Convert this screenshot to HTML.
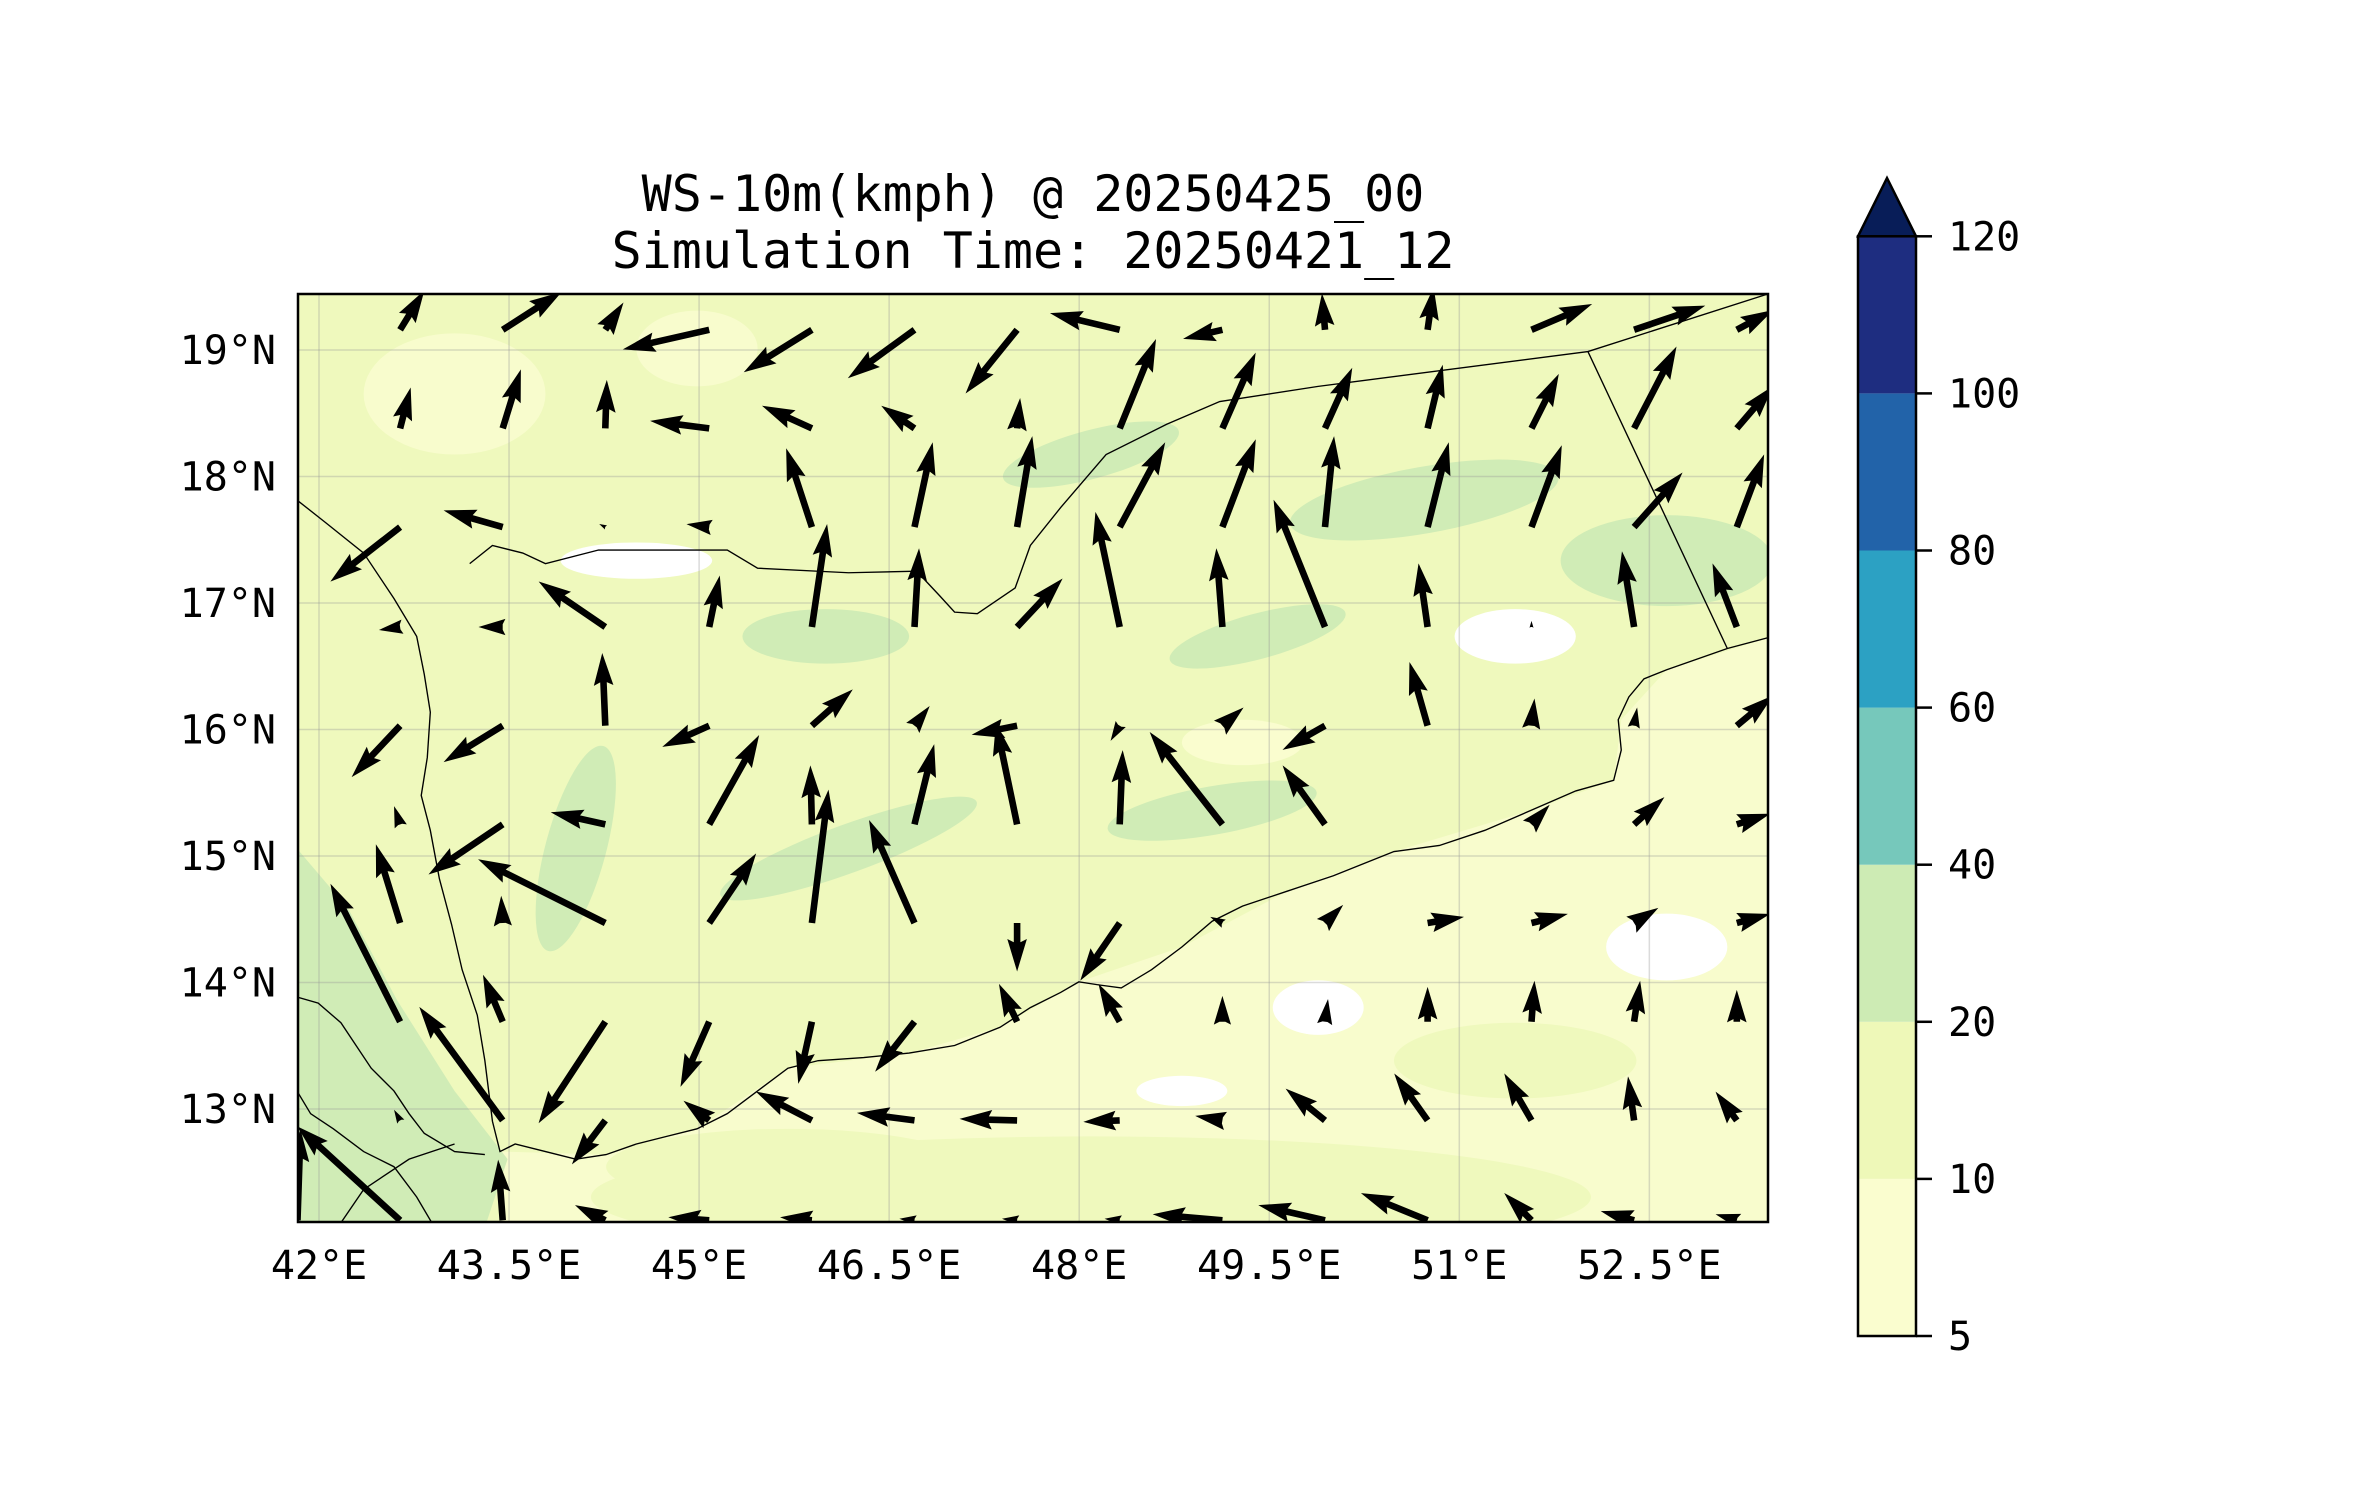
<!DOCTYPE html>
<html><head><meta charset="utf-8">
<style>
html,body{margin:0;padding:0;background:#fff;}
svg{display:block;}
text{font-family:"DejaVu Sans Mono","Liberation Mono",monospace;fill:#000;}
</style></head>
<body>
<svg id="chart" width="2371" height="1500" viewBox="0 0 2371 1500" xmlns="http://www.w3.org/2000/svg">
<defs><clipPath id="plotclip"><rect x="298" y="294" width="1470" height="928"/></clipPath></defs>
<text x="1033" y="211" font-size="50" text-anchor="middle">WS-10m(kmph) @ 20250425_00</text>
<text x="1033" y="268" font-size="50" text-anchor="middle">Simulation Time: 20250421_12</text>
<g clip-path="url(#plotclip)">
 <g transform="scale(1.5152)">
  <rect x="190" y="190" width="985" height="625" fill="#eff9bd"/>
  <path d="M330,760 L400,762 L460,745 L520,705 L600,695 L660,678 L712,648 L780,625 L850,588 L920,562 L1010,535 L1065,515 L1070,475 L1100,442 L1170,420 L1170,810 L330,810 Z" fill="#f8fccd"/>
  <ellipse cx="720" cy="790" rx="330" ry="40" fill="#eff9bd"/>
  <ellipse cx="1000" cy="700" rx="80" ry="25" fill="#eff9bd"/>
  <ellipse cx="520" cy="770" rx="120" ry="25" fill="#eff9bd"/>
  <ellipse cx="1100" cy="625" rx="40" ry="22" fill="#fff"/>
  <ellipse cx="870" cy="665" rx="30" ry="18" fill="#fff"/>
  <ellipse cx="780" cy="720" rx="30" ry="10" fill="#fff"/>
  <path d="M196,560 L230,600 L262,660 L300,720 L335,765 L320,810 L196,810 Z" fill="#d0ecb6"/>
  <ellipse cx="545" cy="420" rx="55" ry="18" fill="#d0ecb6"/>
  <ellipse cx="720" cy="300" rx="60" ry="16" fill="#d0ecb6" transform="rotate(-15 720 300)"/>
  <ellipse cx="940" cy="330" rx="90" ry="22" fill="#d0ecb6" transform="rotate(-10 940 330)"/>
  <ellipse cx="1100" cy="370" rx="70" ry="30" fill="#d0ecb6"/>
  <ellipse cx="830" cy="420" rx="60" ry="15" fill="#d0ecb6" transform="rotate(-15 830 420)"/>
  <ellipse cx="560" cy="560" rx="90" ry="16" fill="#d0ecb6" transform="rotate(-20 560 560)"/>
  <ellipse cx="800" cy="535" rx="70" ry="16" fill="#d0ecb6" transform="rotate(-10 800 535)"/>
  <ellipse cx="380" cy="560" rx="20" ry="70" fill="#d0ecb6" transform="rotate(15 380 560)"/>
  <ellipse cx="420" cy="370" rx="50" ry="12" fill="#fff"/>
  <ellipse cx="1000" cy="420" rx="40" ry="18" fill="#fff"/>
  <ellipse cx="820" cy="490" rx="40" ry="15" fill="#fafdcf"/>
  <ellipse cx="300" cy="260" rx="60" ry="40" fill="#f8fccd"/>
  <ellipse cx="460" cy="230" rx="40" ry="25" fill="#f8fccd"/>
 </g>
 <g id="grid"></g>
 <g transform="scale(1.5152)" fill="none" stroke="#000" stroke-width="0.9">
  <path d="M196,330 L215,345 L240,365 L260,395 L275,420 L280,445 L284,470 L282,500 L278,525 L284,548 L290,580 L298,610 L305,640 L315,670 L320,700 L325,740 L330,760 L340,755 L360,760 L380,765 L400,762 L420,755 L440,750 L460,745 L480,735 L500,720 L520,705 L540,700 L570,698 L600,695 L630,690 L660,678 L680,665 L700,655 L712,648 L725,650 L740,652 L760,640 L780,625 L800,608 L820,598 L850,588 L880,578 L900,570 L920,562 L950,558 L980,548 L1010,535 L1040,522 L1065,515 L1070,495 L1068,475 L1075,460 L1085,448 L1100,442 L1120,435 L1140,428 L1170,420"/>
  <path d="M196,658 L210,662 L225,675 L235,690 L245,705 L260,720 L270,735 L280,748 L300,760 L320,762"/>
  <path d="M196,720 L205,735 L220,745 L240,760 L260,770 L275,790 L285,807"/>
  <path d="M225,807 L240,785 L270,765 L300,755"/>
  <path d="M310,372 L325,360 L345,365 L360,372 L395,363 L480,363 L500,375 L560,378 L605,377 L620,393 L630,404 L645,405 L670,388 L680,360 L700,335 L730,300 L770,280 L805,265 L870,255 L1048,232 L1170,193"/>
  <path d="M1048,232 L1140,428"/>
 </g>
 <g id="arrows"></g>
</g>
<rect x="298" y="294" width="1470" height="928" fill="none" stroke="#000" stroke-width="2.5"/>
<g id="axes"></g>
<g id="cbar"></g>
</svg>
<script>
// ---- data ----
const lonTicks = [42, 43.5, 45, 46.5, 48, 49.5, 51, 52.5];
const latTicks = [13, 14, 15, 16, 17, 18, 19];
const gridLons = [41.83, 42.64, 43.45, 44.26, 45.08, 45.89, 46.70, 47.51, 48.32, 49.13, 49.94, 50.75, 51.57, 52.38, 53.19];
const gridLats = [19.16, 18.38, 17.60, 16.81, 16.03, 15.25, 14.47, 13.69, 12.91, 12.12];
const U = [
 [0,16,39,12,-57,-45,-44,-34,-46,-26,-2,4,40,47,24],
 [0,7,12,1,-39,-33,-22,2,24,22,18,10,18,28,24],
 [0,-46,-39,-4,-15,-17,12,10,30,22,6,14,20,32,18],
 [0,-14,-16,-44,7,10,3,30,-16,-4,-34,-6,0,-8,-16],
 [0,-32,-39,-2,-31,27,10,-30,-6,14,-28,-12,2,2,24],
 [0,-4,-49,-36,33,-1,13,-14,2,-48,-28,0,12,20,22],
 [0,-16,-1,-84,31,11,-30,0,-26,-8,12,24,24,16,22],
 [0,-46,-13,-44,-19,-9,-26,-12,-14,0,2,0,2,4,0],
 [0,-4,-55,-22,-17,-37,-38,-38,-24,-18,-26,-22,-18,-4,-14],
 [2,-68,-3,-20,-27,-21,-10,-10,-10,-46,-44,-44,-18,-22,-14]
];
const V = [
 [0,26,25,18,-13,-28,-32,-42,11,-6,24,28,17,16,13],
 [0,27,39,32,5,15,15,20,59,50,40,42,36,54,28],
 [0,-36,11,2,2,52,56,60,56,58,60,56,54,36,48],
 [0,-2,0,30,34,68,52,32,76,52,84,42,4,50,42],
 [0,-34,-24,48,-14,24,13,-6,-10,12,-16,42,18,12,20],
 [0,12,-33,8,59,39,53,67,49,61,39,0,13,18,7],
 [0,52,18,42,46,88,68,-32,-38,4,12,4,6,10,6],
 [0,91,31,-67,-43,-41,-33,25,25,17,15,23,27,27,21],
 [0,7,75,-29,13,19,5,1,-1,3,21,31,31,29,19],
 [60,62,40,10,2,2,1,1,1,4,10,18,18,6,4]
];
const cbarLevels = [5, 10, 20, 40, 60, 80, 100, 120];
const cbarColors = ["#fafdcf", "#eef8b8", "#cdebb4", "#76c8bb", "#2ca1c3", "#2263a9", "#1e2d80"];
const cbarExtendColor = "#081d58";

// ---- axis functions ----
const X0 = 319, PXDEG_X = 126.7, Y0 = 350, PXDEG_Y = 126.5;
function xOf(lon){ return X0 + (lon - 42) * PXDEG_X; }
function yOf(lat){ return Y0 + (19 - lat) * PXDEG_Y; }
const VEC_SCALE = 1.5152; // px per wind unit
const CB_TOP = 235, CB_STEP = 157.1;
function cbY(i){ return 1336 - i * CB_STEP; }

const NS = "http://www.w3.org/2000/svg";
function mk(tag, attrs, parent){ const e = document.createElementNS(NS, tag); for (const k in attrs) e.setAttribute(k, attrs[k]); parent.appendChild(e); return e; }

// gridlines
const grid = document.getElementById('grid');
lonTicks.forEach(lon => {
  const l = mk('line', {x1: xOf(lon), x2: xOf(lon), y1: 294, y2: 1222, stroke: '#999', 'stroke-opacity': 0.35, 'stroke-width': 1.5}, grid);
  
  
});
latTicks.forEach(lat => {
  const l = mk('line', {x1: 298, x2: 1768, y1: yOf(lat), y2: yOf(lat), stroke: '#999', 'stroke-opacity': 0.35, 'stroke-width': 1.5}, grid);
  
  
});

// axis labels
const axes = document.getElementById('axes');
lonTicks.forEach(lon => {
  const t = mk('text', {x: xOf(lon), y: 1279, 'font-size': 40, 'text-anchor': 'middle'}, axes);
  t.textContent = lon + '°E';
  
  
});
latTicks.forEach(lat => {
  const t = mk('text', {x: 276, y: yOf(lat) + 14, 'font-size': 40, 'text-anchor': 'end'}, axes);
  t.textContent = lat + '°N';
  
  
});

// arrows
const arrows = document.getElementById('arrows');
const W = 6.5, HW = 3 * W, HL = 5 * W, HAL = 4.5 * W;
for (let j = 0; j < gridLats.length; j++) {
  for (let i = 0; i < gridLons.length; i++) {
    const u = U[j][i], v = V[j][i];
    const dx = u * VEC_SCALE, dy = -v * VEC_SCALE;
    const L = Math.hypot(dx, dy);
    if (L < 3) continue;
    const s = L < HAL ? L / HAL : 1;
    const w = W * s, hw = HW * s, hl = HL * s, hal = HAL * s;
    const pts = [[0, -w/2], [L - hal, -w/2], [L - hl, -hw/2], [L, 0], [L - hl, hw/2], [L - hal, w/2], [0, w/2]];
    const ang = Math.atan2(dy, dx) * 180 / Math.PI;
    const p = mk('polygon', {points: pts.map(q => q[0].toFixed(1) + ',' + q[1].toFixed(1)).join(' '), fill: '#000',
      transform: 'translate(' + xOf(gridLons[i]).toFixed(1) + ',' + yOf(gridLats[j]).toFixed(1) + ') rotate(' + ang.toFixed(1) + ')'}, arrows);
    
    
  }
}

// colorbar
const cb = document.getElementById('cbar');
const CBX = 1858, CBW = 58;
for (let i = 0; i < cbarColors.length; i++) {
  const r = mk('rect', {x: CBX, y: cbY(i + 1), width: CBW, height: cbY(i) - cbY(i + 1), fill: cbarColors[i]}, cb);
  
  
}
const tri = mk('polygon', {points: CBX + ',' + cbY(7) + ' ' + (CBX + CBW/2) + ',178 ' + (CBX + CBW) + ',' + cbY(7), fill: cbarExtendColor, stroke: '#000', 'stroke-width': 2.5}, cb);


const fr = mk('rect', {x: CBX, y: cbY(7), width: CBW, height: cbY(0) - cbY(7), fill: 'none', stroke: '#000', 'stroke-width': 2.5}, cb);


cbarLevels.forEach((lv, i) => {
  const tk = mk('line', {x1: CBX + CBW, x2: CBX + CBW + 16, y1: cbY(i), y2: cbY(i), stroke: '#000', 'stroke-width': 2.5}, cb);
  
  
  const t = mk('text', {x: 1948, y: cbY(i) + 14, 'font-size': 40}, cb);
  t.textContent = lv;
  
  
});
</script>
</body></html>
